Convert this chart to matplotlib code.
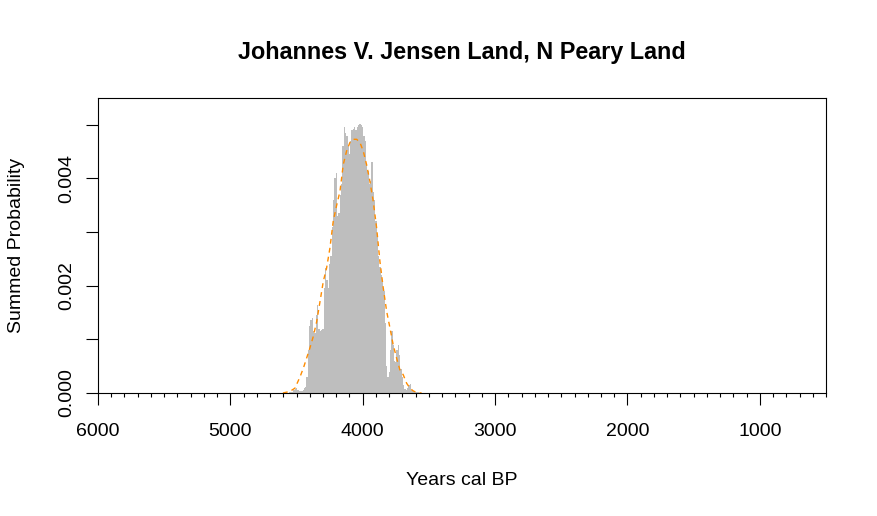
import matplotlib
matplotlib.use("Agg")
import matplotlib.pyplot as plt
import numpy as np

plt.rcParams['font.family'] = ['Liberation Sans', 'DejaVu Sans']

# Summed probability (grey area), years cal BP
spd_years = [4560, 4550, 4540, 4530, 4520, 4510, 4500, 4490, 4480, 4470,
             4460, 4450, 4440, 4430, 4420, 4410, 4400, 4390, 4380, 4370,
             4360, 4350, 4340, 4330, 4320, 4310, 4300, 4290, 4280, 4270,
             4260, 4250, 4240, 4230, 4220, 4210, 4200, 4190, 4180, 4170,
             4160, 4150, 4140, 4130, 4120, 4110, 4100, 4090, 4080, 4070,
             4060, 4050, 4040, 4030, 4020, 4010, 4000, 3990, 3980, 3970,
             3960, 3950, 3940, 3930, 3920, 3910, 3900, 3890, 3880, 3870,
             3860, 3850, 3840, 3830, 3820, 3810, 3800, 3790, 3780, 3770,
             3760, 3750, 3740, 3730, 3720, 3710, 3700, 3690, 3680, 3670,
             3660, 3650, 3640, 3630, 3620, 3610, 3600, 3590, 3580, 3570, 3560]
spd_values = [0.0, 0.00001, 0.00001, 0.00002, 0.00005, 0.00008, 0.0001, 0.00006, 0.00003, 0.00003,
              0.00004, 0.00006, 0.0001, 0.00012, 0.0003, 0.0008, 0.00124, 0.00136, 0.0014, 0.00115,
              0.00112, 0.00145, 0.00165, 0.0012, 0.00115, 0.00117, 0.0012, 0.00195, 0.00233, 0.0021,
              0.00195, 0.0024, 0.00255, 0.0031, 0.0036, 0.004, 0.0041, 0.0033, 0.00335, 0.0037,
              0.0039, 0.0046, 0.00495, 0.00485, 0.0048, 0.0046, 0.00445, 0.0047, 0.0049, 0.00492,
              0.00495, 0.0049, 0.00495, 0.005, 0.00501, 0.005, 0.00495, 0.0048, 0.0047, 0.00426,
              0.00414, 0.0039, 0.00395, 0.0043, 0.00375, 0.0036, 0.0032, 0.00295, 0.00255, 0.00235,
              0.0022, 0.0021, 0.0019, 0.0013, 0.0005, 0.0003, 0.0004, 0.0008, 0.00115, 0.0009,
              0.0006, 0.00057, 0.0008, 0.0009, 0.0007, 0.00045, 0.0003, 0.00015, 0.00007, 0.00006,
              0.0001, 0.00015, 0.00016, 0.00006, 0.00003, 0.00003, 0.00002, 0.00001, 0.00001, 0.0, 0.0]

# Smoothed curve (orange dashed)
fit_years = [4603, 4550, 4512, 4474, 4449, 4424, 4399, 4374, 4348, 4323,
             4298, 4273, 4248, 4223, 4197, 4172, 4147, 4122, 4097, 4072,
             4046, 4021, 3996, 3971, 3946, 3921, 3895, 3870, 3845, 3819,
             3794, 3770, 3744, 3719, 3694, 3668, 3643, 3619, 3593, 3555]
fit_values = [0.0, 0.00003, 0.00009, 0.0003, 0.00046, 0.00065, 0.00084, 0.00105, 0.00133, 0.0017,
              0.00208, 0.00233, 0.0027, 0.0032, 0.0035, 0.00376, 0.00426, 0.00451, 0.00467, 0.00473,
              0.00473, 0.00467, 0.00451, 0.00426, 0.00395, 0.00358, 0.00308, 0.00245, 0.00196, 0.00152,
              0.00121, 0.0009, 0.00065, 0.00043, 0.00034, 0.00018, 0.00009, 0.00004, 0.00001, 0.0]

x_major = [6000, 5000, 4000, 3000, 2000, 1000]
x_major_labels = ["6000", "5000", "4000", "3000", "2000", "1000"]
y_ticks = [0.000, 0.001, 0.002, 0.003, 0.004, 0.005]
y_tick_labels = ["0.000", "", "0.002", "", "0.004", ""]

title = "Johannes V. Jensen Land, N Peary Land"
xlabel = "Years cal BP"
ylabel = "Summed Probability"

W, H = 877, 516
fig = plt.figure(figsize=(W / 100, H / 100), dpi=100)
ax = fig.add_axes([98 / W, 1 - 393 / H, (826 - 98) / W, (393 - 98) / H])

ax.fill_between(spd_years, spd_values, 0, step='mid', color='#BEBEBE', linewidth=0)
ax.plot(fit_years, fit_values, color='#FF8C00', lw=1.0, linestyle=(0, (3.5, 3)))

ax.set_xlim(6000, 500)
ax.set_ylim(0, 0.0055)

ax.set_xticks(x_major)
ax.set_xticklabels(x_major_labels)
ax.set_xticks(np.arange(500, 6001, 100), minor=True)
ax.set_yticks(y_ticks)
ax.set_yticklabels(y_tick_labels, rotation=90, va='center')

for sp in ax.spines.values():
    sp.set_linewidth(0.8)
    sp.set_color('black')

ax.tick_params(axis='x', which='major', length=8.6, width=0.8, labelsize=14, pad=12.7)
ax.tick_params(axis='x', which='minor', length=2.7, width=0.8)
ax.tick_params(axis='y', which='major', length=8.6, width=0.8, labelsize=14, pad=8.1)

fig.text(461.7 / W, 1 - 59.3 / H, title, ha='center', va='baseline',
         fontsize=16.8, fontweight='bold')
fig.text(461.7 / W, 1 - 485 / H, xlabel, ha='center', va='baseline', fontsize=14)
fig.text(21.3 / W, 1 - 245.5 / H, ylabel, ha='center', va='baseline', fontsize=14,
         rotation=90, rotation_mode='anchor')

fig.savefig("out.png", dpi=100)
